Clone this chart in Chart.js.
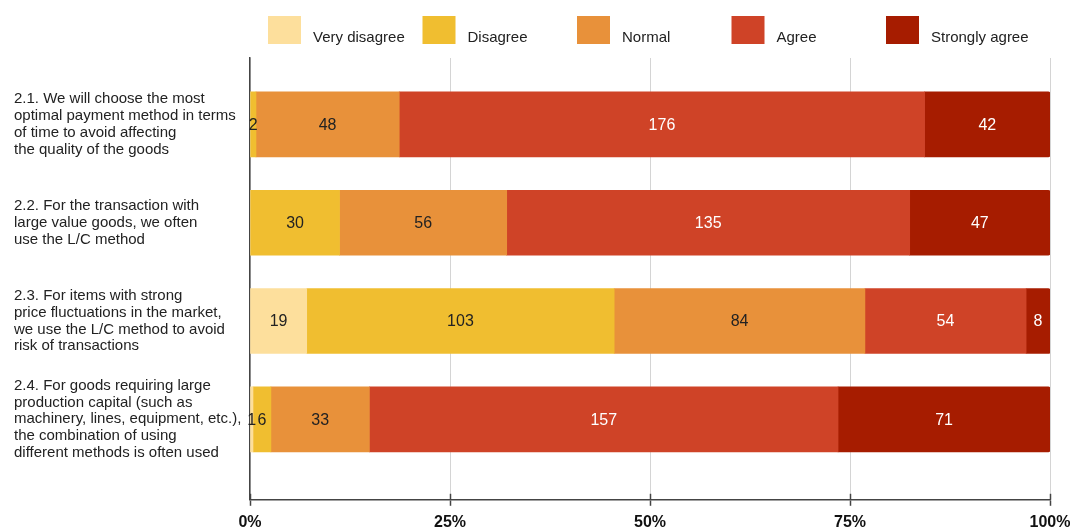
<!DOCTYPE html>
<html>
<head>
<meta charset="utf-8">
<script src="https://cdn.jsdelivr.net/npm/chart.js@4/dist/chart.umd.min.js"></script>
<style>
  html, body { margin: 0; padding: 0; background: #ffffff; }
  #wrap { width: 1070px; height: 531px; }
</style>
</head>
<body>
<div id="wrap"><canvas id="c" width="1070" height="531"></canvas></div>
<script>
// Survey statements (multi-line labels for the vertical axis)
const categories = [
  ['2.1. We will choose the most', 'optimal payment method in terms', 'of time to avoid affecting', 'the quality of the goods'],
  ['2.2. For the transaction with', 'large value goods, we often', 'use the L/C method'],
  ['2.3. For items with strong', 'price fluctuations in the market,', 'we use the L/C method to avoid', 'risk of transactions'],
  ['2.4. For goods requiring large', 'production capital (such as', 'machinery, lines, equipment, etc.),', 'the combination of using', 'different methods is often used']
];

// Response counts per statement
const seriesNames = ['Very disagree', 'Disagree', 'Normal', 'Agree', 'Strongly agree'];
const veryDisagree  = [0, 0, 19, 1];
const disagree      = [2, 30, 103, 6];
const normal        = [48, 56, 84, 33];
const agree         = [176, 135, 54, 157];
const stronglyAgree = [42, 47, 8, 71];

// Percentage axis ticks
const xTickValues = [0, 25, 50, 75, 100];
const xTickLabels = ['0%', '25%', '50%', '75%', '100%'];

const seriesColors = ['#FDDF9C', '#F0BE30', '#E8913A', '#CF4327', '#A61C00'];
const labelColors  = ['#222222', '#222222', '#222222', '#ffffff', '#ffffff'];

const FONT = '"Liberation Sans", Arial, Helvetica, sans-serif';
const seriesValues = [veryDisagree, disagree, normal, agree, stronglyAgree];
const totals = categories.map((_, i) => seriesValues.reduce((s, arr) => s + arr[i], 0));

// 100% stacked: each segment is the share of the row total, the count is kept for labels
const datasets = seriesValues.map((arr, k) => ({
  label: seriesNames[k],
  data: arr.map((v, i) => ({ x: v / totals[i] * 100, y: i, n: v })),
  backgroundColor: seriesColors[k],
  borderWidth: 0,
  borderRadius: 2,
  barThickness: 65
}));

// Legend row drawn above the plot area
const legendRow = {
  id: 'legendRow',
  afterDraw(chart) {
    const ctx = chart.ctx;
    const area = chart.chartArea;
    const slot = 154.5, boxW = 33, boxH = 28, boxTop = 16;
    ctx.save();
    ctx.font = '15px ' + FONT;
    ctx.textBaseline = 'middle';
    ctx.textAlign = 'left';
    chart.data.datasets.forEach((ds, k) => {
      const x = area.left + 18 + k * slot;
      ctx.fillStyle = ds.backgroundColor;
      ctx.fillRect(x, boxTop, boxW, boxH);
      ctx.fillStyle = '#222222';
      ctx.fillText(ds.label, x + boxW + 12, boxTop + boxH / 2 + 8);
    });
    ctx.restore();
  }
};

// Count labels centred in each segment
const segmentLabels = {
  id: 'segmentLabels',
  afterDatasetsDraw(chart) {
    const ctx = chart.ctx;
    ctx.save();
    ctx.font = '16px ' + FONT;
    ctx.textAlign = 'center';
    ctx.textBaseline = 'middle';
    chart.data.datasets.forEach((ds, k) => {
      const meta = chart.getDatasetMeta(k);
      meta.data.forEach((bar, i) => {
        const n = ds.data[i].n;
        if (!n) return;
        const p = bar.getProps(['x', 'y', 'base'], true);
        ctx.fillStyle = labelColors[k];
        ctx.fillText(String(n), (p.x + p.base) / 2, p.y + 1);
      });
    });
    ctx.restore();
  }
};

// Dark tick marks crossing the bottom axis line
const crossTicks = {
  id: 'crossTicks',
  afterDraw(chart) {
    const ctx = chart.ctx;
    const xs = chart.scales.x;
    const bottom = chart.chartArea.bottom;
    ctx.save();
    ctx.strokeStyle = '#444444';
    ctx.lineWidth = 1.5;
    xTickValues.forEach(v => {
      const px = Math.round(xs.getPixelForValue(v)) + 0.5;
      ctx.beginPath();
      ctx.moveTo(px, bottom - 6);
      ctx.lineTo(px, bottom);
      ctx.stroke();
    });
    ctx.restore();
  }
};

const noEdgePadding = (axis) => {
  axis.paddingTop = 0; axis.paddingBottom = 0;
  axis.paddingLeft = 0; axis.paddingRight = 0;
};

new Chart(document.getElementById('c'), {
  type: 'bar',
  data: { datasets },
  plugins: [legendRow, segmentLabels, crossTicks],
  options: {
    responsive: false,
    animation: false,
    indexAxis: 'y',
    layout: { padding: { left: 14, right: 20, top: 58, bottom: -8 } },
    plugins: {
      legend: { display: false },
      tooltip: { enabled: false },
      title: { display: false }
    },
    scales: {
      x: {
        type: 'linear',
        stacked: true,
        min: 0,
        max: 100,
        afterBuildTicks: (axis) => { axis.ticks = xTickValues.map(v => ({ value: v })); },
        afterFit: (axis) => { noEdgePadding(axis); },
        ticks: {
          callback: (v) => xTickLabels[xTickValues.indexOf(v)],
          color: '#111111',
          font: { family: FONT, size: 16, weight: 'bold' },
          padding: 7,
          maxRotation: 0
        },
        grid: {
          color: '#d4d4d4',
          lineWidth: 1,
          tickLength: 6,
          tickColor: '#444444',
          tickWidth: 1.5
        },
        border: { display: true, color: '#444444', width: 1.5 }
      },
      y: {
        type: 'linear',
        stacked: true,
        reverse: true,
        offset: false,
        min: -0.676,
        max: 3.819,
        afterBuildTicks: (axis) => { axis.ticks = categories.map((_, i) => ({ value: i })); },
        afterFit: (axis) => { axis.width = 236; noEdgePadding(axis); },
        ticks: {
          callback: (v) => categories[v],
          crossAlign: 'far',
          color: '#222222',
          font: { family: FONT, size: 15, lineHeight: 1.12 }
        },
        grid: { display: false, offset: false },
        border: { display: true, color: '#444444', width: 1.5 }
      }
    }
  }
});
</script>
</body>
</html>
